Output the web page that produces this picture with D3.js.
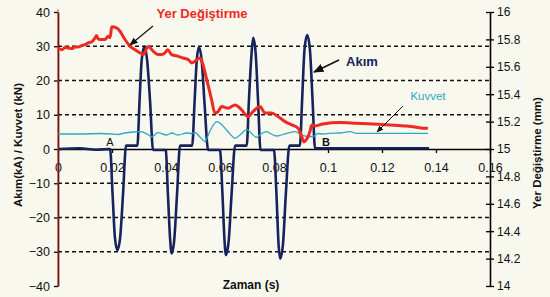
<!DOCTYPE html>
<html>
<head>
<meta charset="utf-8">
<script src="https://cdn.jsdelivr.net/npm/d3@7"></script>
<style>
  body { margin: 0; background: #f8f8ee; }
  svg { display: block; font-family: "Liberation Sans", Arial, sans-serif; }
</style>
</head>
<body>
<div id="chart"></div>
<script>
// Data
// time in s, current in kA (left axis)
const akim = [
  [0, 0], [0.008, 0.2], [0.014, -0.2], [0.0193, 0],
  [0.0202, -13], [0.0211, -26], [0.0220, -29.5], [0.0230, -26], [0.0241, -13], [0.0252, 1],
  [0.0294, 1],
  [0.0302, 14], [0.0310, 26], [0.0320, 29.9], [0.0330, 26], [0.0341, 14], [0.0352, -0.3],
  [0.0399, -0.3],
  [0.0407, -13], [0.0415, -26], [0.0421, -30.5], [0.0430, -27], [0.0441, -13], [0.0452, 1],
  [0.0497, 1],
  [0.0506, 14], [0.0514, 26], [0.0522, 29.8], [0.0532, 26], [0.0543, 13], [0.0556, -0.3],
  [0.0600, -0.3],
  [0.0609, -13], [0.0617, -27], [0.0622, -31], [0.0632, -27], [0.0643, -13], [0.0656, 1],
  [0.0699, 1],
  [0.0707, 14], [0.0717, 28], [0.0723, 32.5], [0.0732, 28], [0.0741, 14], [0.0750, -0.3],
  [0.0800, -0.3],
  [0.0809, -13], [0.0817, -28], [0.0823, -32], [0.0833, -28], [0.0844, -13], [0.0857, 1],
  [0.0896, 1],
  [0.0904, 14], [0.0913, 29], [0.0923, 33.3], [0.0933, 29], [0.0943, 14], [0.0952, 0.2],
  [0.1374, 0.2]
];

// time in s, force in kN (left axis)
const kuvvet = [
  [0, 4.38], [0.0081, 4.38], [0.0156, 4.53], [0.02, 4.38], [0.0222, 4.23], [0.0248, 4.67],
  [0.0278, 4.96], [0.0304, 5.05], [0.033, 4.38], [0.0347, 3.59], [0.037, 4.76], [0.0403, 4.09],
  [0.0421, 4.67], [0.0444, 4.09], [0.0477, 4.67], [0.0496, 4.53], [0.0507, 4.82], [0.0526, 3.5],
  [0.0544, 2.19], [0.0563, 5.26], [0.0588, 7.97], [0.0604, 7.3], [0.0619, 6.04], [0.0637, 4.38],
  [0.0656, 3.12], [0.0678, 4.38], [0.0699, 5.75], [0.0715, 4.67], [0.0736, 3.42], [0.0752, 4.38],
  [0.0773, 5.05], [0.0789, 4.38], [0.081, 3.8], [0.0847, 4.58], [0.0878, 5.05], [0.0903, 4.09],
  [0.0926, 3.65], [0.0944, 3.65], [0.0963, 4.53], [0.0981, 4.38], [0.1007, 4.58], [0.1044, 4.67],
  [0.1081, 5.05], [0.1106, 4.58], [0.1193, 4.58], [0.137, 4.58]
];

// time in s, displacement in mm (right axis)
const yerDegistirme = [
  [0, 15.738], [0.0014, 15.725], [0.0026, 15.74], [0.0038, 15.738], [0.0052, 15.733],
  [0.0063, 15.745], [0.0074, 15.744], [0.0088, 15.755], [0.01, 15.762], [0.0112, 15.774],
  [0.0126, 15.784], [0.0137, 15.811], [0.0143, 15.828], [0.0148, 15.806], [0.0156, 15.799],
  [0.0174, 15.799], [0.0186, 15.823], [0.0193, 15.813], [0.0199, 15.892], [0.0217, 15.884],
  [0.023, 15.859], [0.0239, 15.828], [0.0248, 15.799], [0.0267, 15.749], [0.0285, 15.725],
  [0.0304, 15.701], [0.0316, 15.689], [0.0326, 15.725], [0.0334, 15.749], [0.0353, 15.713],
  [0.0371, 15.689], [0.0385, 15.689], [0.0396, 15.701], [0.0406, 15.725], [0.0421, 15.689],
  [0.0446, 15.676], [0.0464, 15.664], [0.0483, 15.652], [0.0495, 15.628], [0.0507, 15.64],
  [0.0515, 15.652], [0.0526, 15.664], [0.0537, 15.615], [0.0551, 15.505], [0.0569, 15.359],
  [0.0581, 15.262], [0.0593, 15.273], [0.0606, 15.31], [0.063, 15.298], [0.0656, 15.322],
  [0.068, 15.286], [0.0704, 15.237], [0.0722, 15.273], [0.0748, 15.31], [0.0767, 15.262],
  [0.0791, 15.262], [0.0815, 15.237], [0.0841, 15.2], [0.0866, 15.176], [0.0889, 15.152],
  [0.0903, 15.09], [0.0911, 15.051], [0.0919, 15.066], [0.0926, 15.09], [0.0933, 15.127],
  [0.094, 15.176], [0.0952, 15.168], [0.0981, 15.183], [0.1044, 15.193], [0.1106, 15.188],
  [0.1167, 15.183], [0.123, 15.176], [0.1291, 15.168], [0.1322, 15.161], [0.1352, 15.152],
  [0.137, 15.152]
];
// the displacement trace starts with a jump through the whole axis at t = 0
const yerStartJump = [[0, 14.0], [0, 16.02]];

const xTicks = [0, 0.02, 0.04, 0.06, 0.08, 0.1, 0.12, 0.14, 0.16];
const leftTicks = [-40, -30, -20, -10, 0, 10, 20, 30, 40];
const gridValues = [-30, -20, -10, 10, 20, 30];
const rightTicks = [14, 14.2, 14.4, 14.6, 14.8, 15, 15.2, 15.4, 15.6, 15.8, 16];

// Layout
const width = 550, height = 297;
const plot = { left: 58, right: 490, top: 12, bottom: 286 };

const svg = d3.select("#chart").append("svg")
  .attr("width", width).attr("height", height);

svg.append("rect").attr("width", width).attr("height", height).attr("fill", "#f8f8ee");

const x = d3.scaleLinear().domain([0, 0.16]).range([plot.left, plot.right]);
const yL = d3.scaleLinear().domain([-40, 40]).range([plot.bottom, plot.top]);
const yR = d3.scaleLinear().domain([14, 16]).range([plot.bottom, plot.top]);

// dashed grid
svg.append("g").selectAll("line").data(gridValues).enter().append("line")
  .attr("x1", plot.left).attr("x2", plot.right)
  .attr("y1", d => yL(d)).attr("y2", d => yL(d))
  .attr("stroke", "#111").attr("stroke-width", 1.3)
  .attr("stroke-dasharray", "4,3");

// axes
const leftAxis = svg.append("g")
  .attr("transform", `translate(${plot.left},0)`)
  .call(d3.axisLeft(yL).tickValues(leftTicks).tickSizeInner(4).tickSizeOuter(0).tickPadding(4));

const rightAxis = svg.append("g")
  .attr("transform", `translate(${plot.right},0)`)
  .call(d3.axisRight(yR).tickValues(rightTicks).tickSizeInner(4).tickSizeOuter(0).tickPadding(3)
    .tickFormat(d => String(d)));
rightAxis.selectAll(".tick line").attr("x1", -4);

const bottomAxis = svg.append("g")
  .attr("transform", `translate(0,${yL(0)})`)
  .call(d3.axisBottom(x).tickValues(xTicks).tickSizeInner(4).tickSizeOuter(0).tickPadding(10)
    .tickFormat(d => String(d)));

[leftAxis, rightAxis, bottomAxis].forEach(a => {
  a.select(".domain").attr("stroke", "#000").attr("stroke-width", 1.6);
  a.selectAll(".tick line").attr("stroke", "#000").attr("stroke-width", 1.3);
  a.selectAll(".tick text")
    .attr("fill", "#111")
    .style("font-size", "12.5px")
    .style("font-family", "\"Liberation Sans\", Arial, sans-serif");
});
rightAxis.selectAll(".tick text").style("font-size", "12px");

// series
const line = (ys) => d3.line().x(d => x(d[0])).y(d => ys(d[1])).curve(d3.curveMonotoneX);

svg.append("path").datum(akim)
  .attr("fill", "none").attr("stroke", "#17235c").attr("stroke-width", 2.6)
  .attr("stroke-linejoin", "round")
  .attr("d", line(yL));

svg.append("path").datum(kuvvet)
  .attr("fill", "none").attr("stroke", "#2aa8c6").attr("stroke-width", 1.3)
  .attr("d", line(yL));

svg.append("path").datum(yerStartJump)
  .attr("fill", "none").attr("stroke", "#ee2a22").attr("stroke-width", 1)
  .attr("d", d3.line().x(d => x(d[0])).y(d => yR(d[1])));

svg.append("path").datum(yerDegistirme)
  .attr("fill", "none").attr("stroke", "#ee2a22").attr("stroke-width", 3)
  .attr("stroke-linejoin", "round")
  .attr("d", line(yR));

// axis titles
svg.append("text")
  .attr("transform", "translate(22,145) rotate(-90)")
  .attr("text-anchor", "middle")
  .style("font-size", "11.5px").style("font-weight", "bold").attr("fill", "#111")
  .text("Akım(kA) / Kuvvet (kN)");

svg.append("text")
  .attr("transform", "translate(541,153) rotate(-90)")
  .attr("text-anchor", "middle")
  .style("font-size", "11.5px").style("font-weight", "bold").attr("fill", "#111")
  .text("Yer Değiştirme (mm)");

svg.append("text")
  .attr("x", 251).attr("y", 289)
  .attr("text-anchor", "middle")
  .style("font-size", "12px").style("font-weight", "bold").attr("fill", "#111")
  .text("Zaman (s)");

// annotations
const defs = svg.append("defs");
defs.append("marker")
  .attr("id", "head").attr("viewBox", "0 0 10 10")
  .attr("refX", 9).attr("refY", 5)
  .attr("markerWidth", 7).attr("markerHeight", 7)
  .attr("orient", "auto")
  .append("path").attr("d", "M0,1 L10,5 L0,9 z").attr("fill", "#111");

svg.append("text")
  .attr("x", 202).attr("y", 18).attr("text-anchor", "middle")
  .style("font-size", "13px").style("font-weight", "bold").attr("fill", "#ee2a22")
  .text("Yer Değiştirme");
svg.append("line")
  .attr("x1", 153).attr("y1", 26).attr("x2", 130).attr("y2", 45)
  .attr("stroke", "#111").attr("stroke-width", 1.2).attr("marker-end", "url(#head)");

svg.append("text")
  .attr("x", 362).attr("y", 66).attr("text-anchor", "middle")
  .style("font-size", "13px").style("font-weight", "bold").attr("fill", "#17235c")
  .text("Akım");
svg.append("line")
  .attr("x1", 339).attr("y1", 60).attr("x2", 314).attr("y2", 72)
  .attr("stroke", "#111").attr("stroke-width", 1.5).attr("marker-end", "url(#head)");

svg.append("text")
  .attr("x", 428).attr("y", 100).attr("text-anchor", "middle")
  .style("font-size", "11.5px").attr("fill", "#2aa8c6")
  .text("Kuvvet");
svg.append("line")
  .attr("x1", 403).attr("y1", 106).attr("x2", 377).attr("y2", 132)
  .attr("stroke", "#111").attr("stroke-width", 1).attr("marker-end", "url(#head)");

svg.append("text")
  .attr("x", 110).attr("y", 145.5).attr("text-anchor", "middle")
  .style("font-size", "11px").attr("fill", "#111")
  .text("A");
svg.append("text")
  .attr("x", 326).attr("y", 146).attr("text-anchor", "middle")
  .style("font-size", "11px").style("font-weight", "bold").attr("fill", "#111")
  .text("B");
</script>
</body>
</html>
